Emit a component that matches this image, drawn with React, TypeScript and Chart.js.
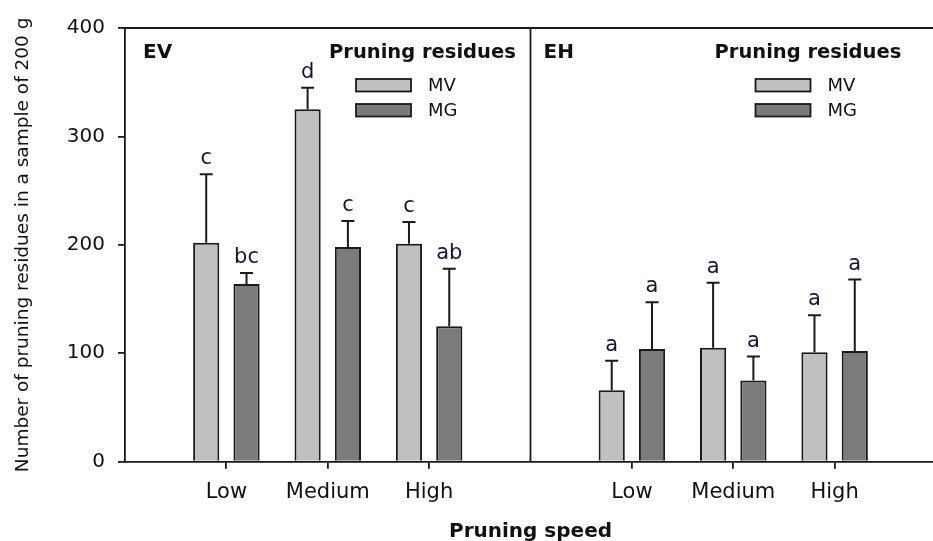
import React, { useEffect, useRef } from 'react';
import { Chart, registerables } from 'chart.js';

Chart.register(...registerables);

// Pruning speed levels, repeated for each sampling panel
const speeds = ['Low', 'Medium', 'High'];
const panelNames = ['EV', 'EH'];
const seriesNames = ['MV', 'MG'];

// Mean number of pruning residues (per 200 g sample)
const evMV = [202, 325, 201];
const evMG = [164, 198, 125];
const ehMV = [66, 105, 101];
const ehMG = [104, 75, 102];

// Upper error bar length
const evMVErr = [63, 20, 20];
const evMGErr = [10, 24, 53];
const ehMVErr = [27, 60, 34];
const ehMGErr = [43, 22, 66];

// Significance letters
const evMVLetters = ['c', 'd', 'c'];
const evMGLetters = ['bc', 'c', 'ab'];
const ehMVLetters = ['a', 'a', 'a'];
const ehMGLetters = ['a', 'a', 'a'];

const yTicks = [0, 100, 200, 300, 400];

const FONT = 'DejaVu Sans';
const INK = '#1a1a1a';
const LETTER_INK = '#15153a';
const MV_FILL = '#c0c0c0';
const MG_FILL = '#7b7b7b';

// Two panels on one category axis: a blank slot at each panel edge
const xLabels = ['', ...speeds, '', ...speeds, ''];
const join = <T,>(a: T[], b: T[]): (T | null)[] => [null, ...a, null, ...b, null];

const overlayPlugin = {
  id: 'overlay',
  afterDatasetsDraw(chart: any) {
    const { ctx, chartArea, scales } = chart;
    const x = scales.x;
    const y = scales.y;
    ctx.save();

    // top frame and panel divider
    ctx.strokeStyle = INK;
    ctx.lineWidth = 1.8;
    ctx.beginPath();
    ctx.moveTo(chartArea.left, chartArea.top);
    ctx.lineTo(chartArea.right, chartArea.top);
    const divider = x.getPixelForValue(4);
    ctx.moveTo(divider, chartArea.top);
    ctx.lineTo(divider, chartArea.bottom);
    ctx.stroke();

    // error bars and letters
    chart.data.datasets.forEach((ds: any, di: number) => {
      const meta = chart.getDatasetMeta(di);
      meta.data.forEach((bar: any, i: number) => {
        const v = ds.data[i];
        if (v == null) return;
        const topPx = y.getPixelForValue(v + ds.errors[i]);
        ctx.strokeStyle = INK;
        ctx.lineWidth = 2;
        ctx.beginPath();
        ctx.moveTo(bar.x, bar.y);
        ctx.lineTo(bar.x, topPx);
        ctx.moveTo(bar.x - 6.5, topPx);
        ctx.lineTo(bar.x + 6.5, topPx);
        ctx.stroke();
        ctx.fillStyle = LETTER_INK;
        ctx.font = `21px "${FONT}"`;
        ctx.textAlign = 'center';
        ctx.textBaseline = 'alphabetic';
        ctx.fillText(ds.letters[i], bar.x, topPx - 10);
      });
    });

    // panel names and legends
    const legendOffsets = [204, 184];
    const swatchOffsets = [27, 41];
    panelNames.forEach((name, p) => {
      const left = x.getPixelForValue(p * 4);
      ctx.fillStyle = '#111';
      ctx.textAlign = 'left';
      ctx.textBaseline = 'alphabetic';
      ctx.font = `bold 20px "${FONT}"`;
      ctx.fillText(name, left + (p === 0 ? 18 : 13), chartArea.top + 30);

      const lx = left + legendOffsets[p];
      ctx.font = `bold 19.5px "${FONT}"`;
      ctx.fillText('Pruning residues', lx, chartArea.top + 30);

      const sx = lx + swatchOffsets[p];
      const fills = [MV_FILL, MG_FILL];
      seriesNames.forEach((s, k) => {
        const sy = chartArea.top + 51 + k * 25;
        ctx.fillStyle = fills[k];
        ctx.fillRect(sx, sy, 55, 12.5);
        ctx.strokeStyle = INK;
        ctx.lineWidth = 1.8;
        ctx.strokeRect(sx, sy, 55, 12.5);
        ctx.fillStyle = '#111';
        ctx.font = `18px "${FONT}"`;
        ctx.textBaseline = 'middle';
        ctx.fillText(s, sx + 72, sy + 7);
        ctx.textBaseline = 'alphabetic';
      });
    });

    ctx.restore();
  },
};

export default function App() {
  const canvasRef = useRef<HTMLCanvasElement | null>(null);

  useEffect(() => {
    const canvas = canvasRef.current;
    if (!canvas) return;
    const chart = new Chart(canvas, {
      type: 'bar',
      data: {
        labels: xLabels,
        datasets: [
          {
            label: seriesNames[0],
            data: join(evMV, ehMV),
            errors: join(evMVErr, ehMVErr),
            letters: join(evMVLetters, ehMVLetters),
            backgroundColor: MV_FILL,
            borderColor: INK,
            borderWidth: 2,
            categoryPercentage: 0.795,
            barPercentage: 0.65,
          } as any,
          {
            label: seriesNames[1],
            data: join(evMG, ehMG),
            errors: join(evMGErr, ehMGErr),
            letters: join(evMGLetters, ehMGLetters),
            backgroundColor: MG_FILL,
            borderColor: INK,
            borderWidth: 2,
            categoryPercentage: 0.795,
            barPercentage: 0.65,
          } as any,
        ],
      },
      options: {
        responsive: false,
        animation: false,
        devicePixelRatio: 1,
        layout: { padding: { top: 28, right: 0, bottom: 0, left: 0 } },
        plugins: {
          legend: { display: false },
          tooltip: { enabled: false },
        },
        scales: {
          x: {
            type: 'category',
            offset: false,
            grid: {
              offset: false,
              drawOnChartArea: false,
              tickLength: 7,
              lineWidth: 1.8,
              color: (c: any) => (xLabels[c.index] ? INK : 'rgba(0,0,0,0)'),
            },
            border: { display: true, color: INK, width: 1.8 },
            ticks: {
              autoSkip: false,
              maxRotation: 0,
              padding: 11,
              color: '#111',
              font: { family: FONT, size: 21 },
            },
            title: {
              display: true,
              text: 'Pruning speed',
              color: '#111',
              font: { family: FONT, size: 20, weight: 'bold', lineHeight: 0.9 },
              padding: { top: 0, bottom: 0 },
            },
            afterFit: (s: any) => {
              s.height = 79.3;
            },
          },
          y: {
            type: 'linear',
            min: yTicks[0],
            max: yTicks[yTicks.length - 1],
            afterBuildTicks: (s: any) => {
              s.ticks = yTicks.map((v) => ({ value: v }));
            },
            grid: {
              drawOnChartArea: false,
              tickLength: 7,
              lineWidth: 1.8,
              color: INK,
            },
            border: { display: true, color: INK, width: 1.8 },
            ticks: {
              padding: 13,
              color: '#111',
              font: { family: FONT, size: 20 },
            },
            title: {
              display: true,
              text: 'Number of pruning residues in a sample of 200 g',
              color: '#111',
              font: { family: FONT, size: 18.5 },
              padding: { top: 12, bottom: 0 },
            },
            afterFit: (s: any) => {
              s.width = 125;
            },
          },
        },
      } as any,
      plugins: [overlayPlugin],
    });
    return () => chart.destroy();
  }, []);

  return (
    <div
      style={{
        position: 'fixed',
        left: 0,
        top: 0,
        width: 933,
        height: 541,
        overflow: 'hidden',
        background: '#fff',
      }}
    >
      <canvas ref={canvasRef} width={947} height={541} style={{ display: 'block' }} />
    </div>
  );
}
